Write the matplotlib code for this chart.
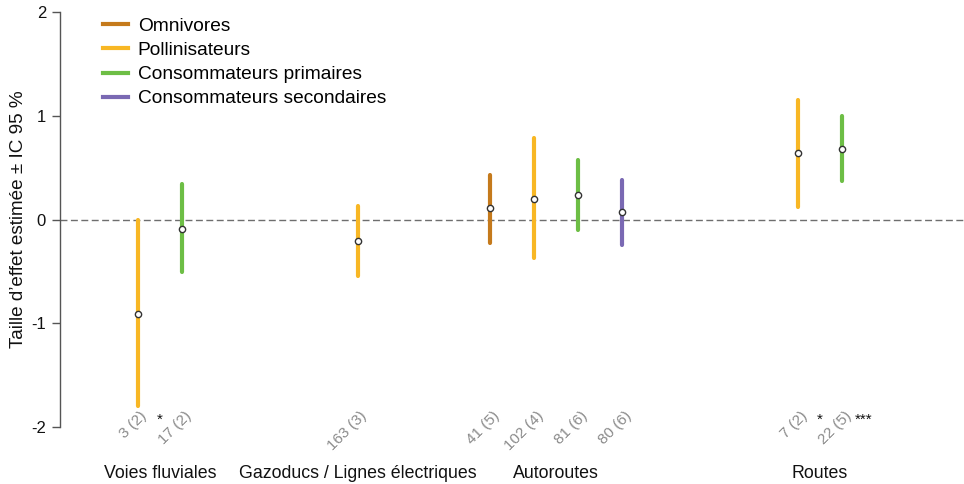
import matplotlib
matplotlib.use("Agg")
import matplotlib.pyplot as plt
from matplotlib.lines import Line2D

plt.rcParams['font.family'] = ['Liberation Sans', 'DejaVu Sans']

# ---- data ----
groups = ["Voies fluviales", "Gazoducs / Lignes électriques", "Autoroutes", "Routes"]
guilds = ["Omnivores", "Pollinisateurs", "Consommateurs primaires", "Consommateurs secondaires"]
item_group = [0, 0, 1, 2, 2, 2, 2, 3, 3]
item_guild = ["Pollinisateurs", "Consommateurs primaires", "Pollinisateurs",
              "Omnivores", "Pollinisateurs", "Consommateurs primaires",
              "Consommateurs secondaires", "Pollinisateurs", "Consommateurs primaires"]
estimate = [-0.91, -0.09, -0.21, 0.11, 0.20, 0.24, 0.07, 0.64, 0.68]
ci_low = [-1.80, -0.51, -0.54, -0.23, -0.37, -0.10, -0.25, 0.12, 0.37]
ci_high = [0.00, 0.34, 0.13, 0.43, 0.79, 0.57, 0.38, 1.15, 1.00]
n_labels = ["3 (2)", "17 (2)", "163 (3)", "41 (5)", "102 (4)", "81 (6)", "80 (6)", "7 (2)", "22 (5)"]
signif = ["*", "", "", "", "", "", "", "*", "***"]
yticks = [-2, -1, 0, 1, 2]
ylabel = "Taille d\u2019effet estimée ± IC 95 %"

# ---- style / layout ----
colors = {"Omnivores": "#C57A1C", "Pollinisateurs": "#F8B724",
          "Consommateurs primaires": "#6DBE45", "Consommateurs secondaires": "#7A69B3"}
group_start = [0, 5, 8, 15]

# positions computed from group membership
xpos = []
counter = {}
for g in item_group:
    k = counter.get(g, 0)
    xpos.append(group_start[g] + k)
    counter[g] = k + 1

fig = plt.figure(figsize=(9.64, 4.84), dpi=100)
ax = fig.add_axes([60 / 964, 57 / 484, (964 - 60) / 964, 415 / 484])
ax.set_xlim(-1.77, 18.77)
ax.set_ylim(-2, 2)

ax.axhline(0, color="#6e6e6e", lw=1.0, ls=(0, (5, 2.5)), zorder=1)

for x, g, e, lo, hi in zip(xpos, item_guild, estimate, ci_low, ci_high):
    ax.plot([x, x], [lo, hi], color=colors[g], lw=3.0, solid_capstyle='round', zorder=2)
    ax.plot([x], [e], marker='o', ms=4.5, mfc='white', mec='#333333', mew=1.0, zorder=3)

for x, lab, s in zip(xpos, n_labels, signif):
    ax.annotate(lab, xy=(x, -1.875), xytext=(5, 0), textcoords='offset points',
                rotation=45, rotation_mode='anchor', ha='right', va='center',
                fontsize=11, color='#8a8a8a', annotation_clip=False)
    if s:
        ax.text(x + 0.5, -1.93, s, ha='center', va='center', fontsize=11,
                color='#111111', clip_on=False)

for gi, gname in enumerate(groups):
    xs = [x for x, g in zip(xpos, item_group) if g == gi]
    ax.text((min(xs) + max(xs)) / 2, -2.445, gname, ha='center', va='center',
            fontsize=12.8, color='#111111', clip_on=False)

for s in ['top', 'right', 'bottom']:
    ax.spines[s].set_visible(False)
ax.spines['left'].set_color('#555555')
ax.spines['left'].set_linewidth(1.0)
ax.set_xticks([])
ax.set_yticks(yticks)
ax.set_yticklabels([str(t) for t in yticks])
ax.tick_params(axis='y', length=6, width=1.0, color='#555555', labelsize=12, pad=4,
               labelcolor='#111111')
ax.set_ylabel(ylabel, fontsize=13.6, color='#111111')
ax.yaxis.set_label_coords(-0.037, 0.5)

handles = [Line2D([0], [0], color=colors[g], lw=3) for g in guilds]
ax.legend(handles, guilds, loc='upper left', bbox_to_anchor=(0.039, 1.005),
          frameon=False, fontsize=13.8, handlelength=1.3, handletextpad=0.52,
          labelspacing=0.35, borderaxespad=0.0)

fig.savefig("out.png", dpi=100)
